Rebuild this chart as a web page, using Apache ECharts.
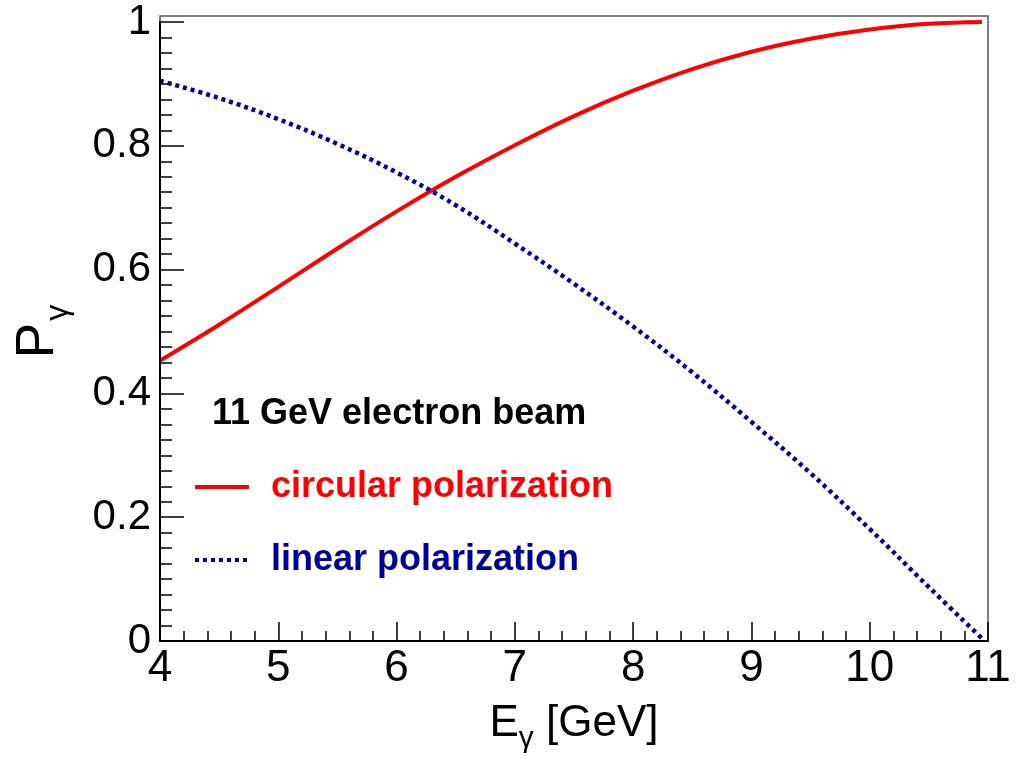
<!DOCTYPE html>
<html>
<head>
<meta charset="utf-8">
<script src="https://cdn.jsdelivr.net/npm/echarts@6/dist/echarts.min.js"></script>
<style>
  html, body { margin: 0; padding: 0; background: #fff; }
  #pol_chart { width: 1026px; height: 759px; }
</style>
</head>
<body>
<div id="pol_chart"></div>
<script>
// photon energy [GeV]
var energy = [4.0, 4.5, 5.0, 5.5, 6.0, 6.5, 7.0, 7.5, 8.0, 8.5, 9.0, 9.5, 10.0, 10.5, 10.95];
// degree of polarization
var circular = [0.453, 0.511, 0.572, 0.634, 0.694, 0.750, 0.801, 0.848, 0.889, 0.924, 0.952, 0.973, 0.988, 0.997, 1.000];
var linear = [0.905, 0.877, 0.843, 0.803, 0.757, 0.704, 0.642, 0.577, 0.508, 0.434, 0.354, 0.271, 0.181, 0.087, 0.004];

var seriesNames = ['circular polarization', 'linear polarization'];
var beamLabel = '11 GeV electron beam';

var FONT = 'Liberation Sans';
var RED = '#ff0000';
var BLUE = '#000099';

function pairs(xs, ys) {
	var out = [];
	for (var i = 0; i < xs.length; i++) {
		out.push([xs[i], ys[i]]);
	}
	return out;
}

var chart = echarts.init(document.getElementById('pol_chart'));

var option = {
	animation: false,
	backgroundColor: '#fff',
	title: {
		text: beamLabel,
		left: 212,
		top: 396,
		padding: 0,
		textStyle: { fontFamily: FONT, fontSize: 36, fontWeight: 'bold', color: '#000' }
	},
	legend: {
		orient: 'vertical',
		left: 193,
		top: 467,
		padding: 0,
		itemWidth: 54,
		itemHeight: 14,
		itemGap: 33,
		selectedMode: false,
		itemStyle: { opacity: 0 },
		lineStyle: { width: 4 },
		textStyle: { fontFamily: FONT, fontSize: 36, fontWeight: 'bold', lineHeight: 40, padding: [0, 0, 0, 17] },
		data: [
			{ name: seriesNames[0], textStyle: { color: RED } },
			{ name: seriesNames[1], textStyle: { color: BLUE } }
		]
	},
	grid: [
		{ left: 160, right: 38, top: 22, bottom: 118, containLabel: false },
		// outer frame (top/right edges sit a little above y = 1)
		{ left: 160, right: 38, top: 16, bottom: 118, show: true, borderColor: '#555', borderWidth: 1.5, backgroundColor: 'transparent' }
	],
	xAxis: [{
		type: 'value',
		gridIndex: 0,
		min: 4,
		max: 11,
		interval: 1,
		z: 5,
		name: '{e|E}{g|γ}{e| [GeV]}',
		nameLocation: 'middle',
		nameGap: 53,
		nameTextStyle: {
			rich: {
				e: { fontFamily: FONT, fontSize: 44, color: '#000' },
				g: { fontFamily: FONT, fontSize: 30, color: '#000', padding: [30, 0, 0, 0] }
			}
		},
		axisLine: { show: true, onZero: false, lineStyle: { color: '#000', width: 2 } },
		axisTick: { show: true, inside: true, length: 19, lineStyle: { color: '#000', width: 1.5 } },
		minorTick: { show: true, splitNumber: 5, length: 10, lineStyle: { color: '#000', width: 1.5 } },
		axisLabel: { fontFamily: FONT, fontSize: 44, color: '#000', margin: 6 },
		splitLine: { show: false }
	}, {
		type: 'value', gridIndex: 1, min: 0, max: 1, show: false
	}],
	yAxis: [{
		type: 'value',
		gridIndex: 0,
		min: 0,
		max: 1,
		interval: 0.2,
		z: 5,
		name: '{p|P}{g|γ}',
		nameLocation: 'middle',
		nameGap: 86,
		nameTextStyle: {
			rich: {
				p: { fontFamily: FONT, fontSize: 53, color: '#000' },
				g: { fontFamily: FONT, fontSize: 32, color: '#000', padding: [40, 0, 0, 2] }
			}
		},
		axisLine: { show: true, onZero: false, lineStyle: { color: '#000', width: 2 } },
		axisTick: { show: true, inside: true, length: 24, lineStyle: { color: '#000', width: 1.5 } },
		minorTick: { show: true, splitNumber: 8, length: 12, lineStyle: { color: '#000', width: 1.5 } },
		axisLabel: { fontFamily: FONT, fontSize: 42, color: '#000', margin: 9 },
		splitLine: { show: false }
	}, {
		type: 'value', gridIndex: 1, min: 0, max: 1, show: false
	}],
	series: [{
		name: seriesNames[0],
		type: 'line',
		xAxisIndex: 0,
		yAxisIndex: 0,
		smooth: 0.4,
		symbol: 'none',
		color: RED,
		lineStyle: { color: RED, width: 4 },
		data: pairs(energy, circular)
	}, {
		name: seriesNames[1],
		type: 'line',
		xAxisIndex: 0,
		yAxisIndex: 0,
		smooth: 0.4,
		symbol: 'none',
		color: BLUE,
		lineStyle: { color: BLUE, width: 4.5, type: [4, 4] },
		data: pairs(energy, linear)
	}]
};
chart.setOption(option);
</script>
</body>
</html>
